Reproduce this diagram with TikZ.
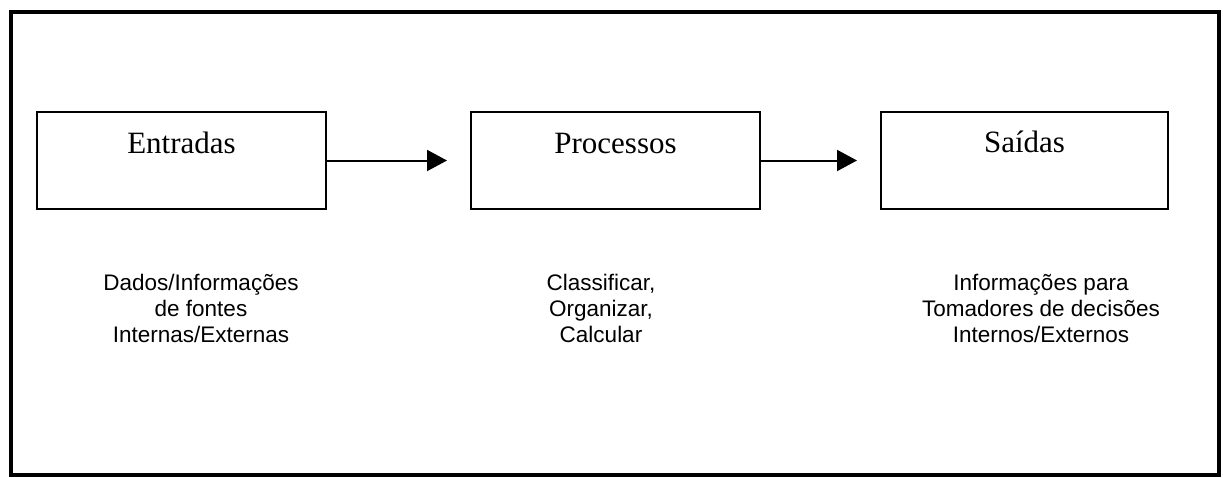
\documentclass[tikz,border=0pt]{standalone}
\usepackage{fontspec}
\setmainfont{Liberation Serif}
\newfontfamily\lowfont{Liberation Sans}
\usetikzlibrary{arrows.meta}
\tikzset{
  frame/.style={draw=black, line width=4pt},
  procbox/.style={draw=black, line width=2pt},
  boxlabel/.style={font=\fontsize{31}{36}\selectfont, inner sep=0pt, anchor=base},
  desc/.style={font=\lowfont\fontsize{22.5}{26}\selectfont, align=center, inner sep=0pt, anchor=base},
  flow/.style={line width=2pt, -{Triangle[length=20pt,width=21pt]}}
}
\begin{document}
\begin{tikzpicture}[x=1pt,y=-1pt]
\useasboundingbox (0,0) rectangle (1223,477);
\draw[frame] (11,12) rectangle (1219,475);
\node[procbox, minimum width=289pt, minimum height=97pt, inner sep=0pt] (e) at (181.5,160.5) {};
\node[procbox, minimum width=289pt, minimum height=97pt, inner sep=0pt] (p) at (615.5,160.5) {};
\node[procbox, minimum width=287pt, minimum height=97pt, inner sep=0pt] (s) at (1024.5,160.5) {};
\node[boxlabel] (et) at (181.5,153) {Entradas};
\node[boxlabel] (pt) at (615.5,153) {Processos};
\node[boxlabel] (st) at (1024.5,152) {Saídas};
\coordinate (a1) at (447,160.5);
\coordinate (a2) at (857,160.5);
\draw[flow] (e.east) -- (a1);
\draw[flow] (p.east) -- (a2);
\node[desc] (d1) at (201,342) {Dados/Informações\\de fontes\\Internas/Externas};
\node[desc] (d2) at (601,342) {Classificar,\\Organizar,\\Calcular};
\node[desc] (d3) at (1041,342) {Informações para\\Tomadores de decisões\\Internos/Externos};
\end{tikzpicture}
\end{document}
